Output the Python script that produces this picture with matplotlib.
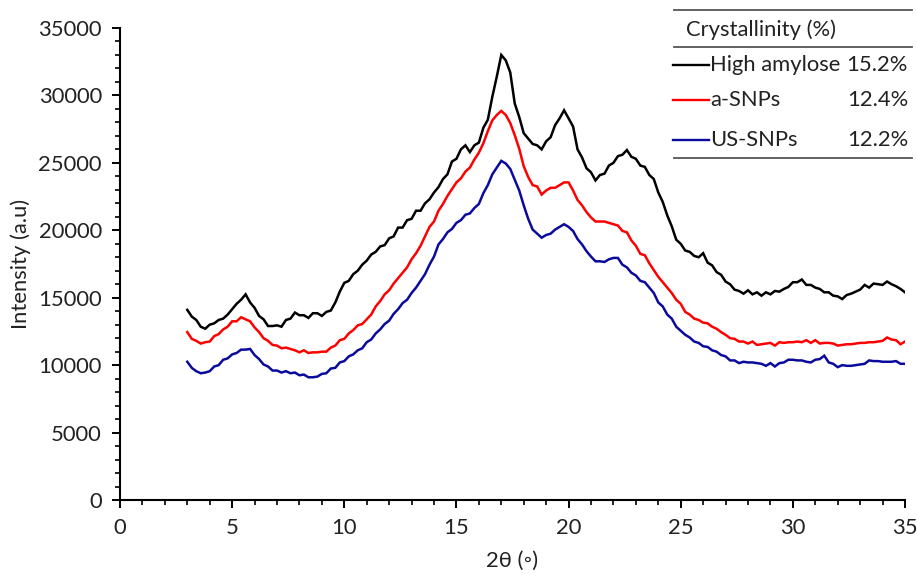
import numpy as np
import matplotlib
matplotlib.use("Agg")
import matplotlib.pyplot as plt
from matplotlib.lines import Line2D
from matplotlib.ticker import MultipleLocator

plt.rcParams['font.family'] = ['Lato', 'DejaVu Sans']

# 2-theta grid (degrees)
two_theta = np.round(np.arange(3.0, 35.0001, 0.2), 1)

high_amylose = [
    14100, 13600, 13350, 12850, 12700, 13000, 13100, 13350, 13450, 13750,
    14150, 14550, 14850, 15250, 14650, 14250, 13650, 13400, 12900, 12900,
    12950, 12850, 13350, 13450, 13900, 13700, 13700, 13500, 13850, 13850,
    13650, 13950, 14050, 14650, 15450, 16100, 16250, 16750, 17000, 17450,
    17750, 18200, 18400, 18800, 18900, 19400, 19550, 20200, 20200, 20750,
    20850, 21450, 21450, 22000, 22300, 22800, 23200, 23800, 24150, 25100,
    25300, 26000, 26300, 25800, 26300, 26500, 27600, 28200, 29900, 31400,
    33000, 32600, 31700, 29400, 28400, 27200, 26800, 26400, 26300, 26000,
    26600, 26900, 27800, 28300, 28900, 28300, 27700, 26000, 25400, 24600,
    24300, 23700, 24100, 24200, 24800, 25000, 25500, 25600, 25950, 25450,
    25300, 24800, 24700, 24100, 23800, 22800, 22100, 21100, 20300, 19300,
    19000, 18500, 18400, 18100, 18000, 18300, 17600, 17400, 16900, 16700,
    16200, 16000, 15600, 15500, 15300, 15550, 15250, 15400, 15150, 15400,
    15250, 15500, 15450, 15650, 15800, 16150, 16150, 16350, 15950, 15950,
    15750, 15650, 15400, 15400, 15150, 15100, 14900, 15200, 15300, 15450,
    15600, 15950, 15750, 16050, 16000, 15950, 16200, 16000, 15850, 15650,
    15400,
]

a_snps = [
    12450, 11950, 11800, 11600, 11700, 11750, 12150, 12300, 12650, 12850,
    13250, 13250, 13550, 13400, 13250, 12800, 12450, 12000, 11800, 11500,
    11450, 11250, 11300, 11200, 11100, 10950, 11100, 10900, 10950, 10950,
    11000, 11000, 11300, 11450, 11850, 11950, 12350, 12600, 12950, 13050,
    13400, 13750, 14350, 14750, 15250, 15550, 16050, 16450, 16850, 17250,
    17850, 18300, 18850, 19550, 20250, 20650, 21450, 21950, 22550, 23050,
    23550, 23850, 24350, 24650, 25250, 25750, 26450, 27350, 28150, 28550,
    28850, 28550, 27950, 27050, 26050, 24750, 23950, 23350, 23250, 22650,
    22950, 23150, 23150, 23350, 23550, 23550, 22950, 22250, 21850, 21350,
    20950, 20650, 20650, 20650, 20550, 20450, 20350, 19950, 19850, 19250,
    18850, 18250, 18150, 17550, 17050, 16550, 16150, 15750, 15350, 14850,
    14550, 13950, 13750, 13450, 13350, 13150, 13100, 12850, 12700, 12450,
    12250, 12000, 11950, 11750, 11750, 11600, 11750, 11500, 11550, 11600,
    11650, 11450, 11700, 11650, 11700, 11700, 11750, 11700, 11850, 11650,
    11850, 11600, 11650, 11650, 11600, 11450, 11500, 11550, 11550, 11600,
    11650, 11650, 11700, 11700, 11750, 11800, 12050, 11900, 11850, 11550,
    11750,
]

us_snps = [
    10250, 9800, 9550, 9400, 9450, 9550, 9900, 10000, 10400, 10500,
    10800, 10900, 11150, 11150, 11200, 10750, 10450, 10050, 9900, 9600,
    9600, 9450, 9550, 9400, 9450, 9250, 9300, 9100, 9100, 9150,
    9350, 9400, 9750, 9800, 10200, 10300, 10650, 10800, 11100, 11250,
    11700, 11900, 12350, 12650, 13050, 13300, 13800, 14150, 14600, 14850,
    15350, 15750, 16250, 16750, 17450, 18050, 18950, 19350, 19850, 20100,
    20550, 20750, 21150, 21250, 21650, 21950, 22750, 23350, 24150, 24650,
    25150, 24950, 24550, 23750, 22950, 21850, 20850, 20050, 19750, 19450,
    19650, 19750, 20050, 20250, 20450, 20250, 19950, 19350, 18950, 18450,
    18050, 17700, 17700, 17650, 17850, 17950, 17950, 17450, 17250, 16850,
    16650, 16250, 16150, 15750, 15350, 14650, 14350, 13750, 13450, 12850,
    12550, 12250, 12050, 11750, 11650, 11400, 11350, 11100, 11000, 10750,
    10650, 10350, 10350, 10150, 10250, 10200, 10200, 10150, 10100, 9950,
    10150, 9900, 10150, 10200, 10400, 10400, 10350, 10350, 10250, 10200,
    10400, 10450, 10700, 10200, 10100, 9850, 10000, 9950, 9950, 10000,
    10050, 10100, 10350, 10300, 10300, 10250, 10250, 10250, 10300, 10100,
    10100,
]

series_names = ["High amylose", "a-SNPs", "US-SNPs"]
crystallinity = ["15.2%", "12.4%", "12.2%"]
series_colors = ["#000000", "#ff0000", "#0a0a9c"]

x_ticks = [0, 5, 10, 15, 20, 25, 30, 35]
y_ticks = [0, 5000, 10000, 15000, 20000, 25000, 30000, 35000]

W, H = 917, 576
FS = 15.8
TXT = "#222222"
fig = plt.figure(figsize=(W / 100, H / 100), dpi=100)


def fx(px):
    return px / W


def fy(py):
    return 1 - py / H


ax = fig.add_axes([fx(120), fy(500), fx(905) - fx(120), fy(28) - fy(500)])

for vals, col in zip([high_amylose, a_snps, us_snps], series_colors):
    ax.plot(two_theta, vals, color=col, lw=1.8, solid_joinstyle="miter")

ax.set_xlim(0, 35)
ax.set_ylim(0, 35000)
ax.set_xticks(x_ticks)
ax.set_yticks(y_ticks)
ax.xaxis.set_minor_locator(MultipleLocator(1))
ax.yaxis.set_minor_locator(MultipleLocator(1000))

for side in ("top", "right"):
    ax.spines[side].set_visible(False)
for side in ("left", "bottom"):
    ax.spines[side].set_linewidth(1.5)
    ax.spines[side].set_color("black")

ax.tick_params(which="major", direction="out", length=6, width=1.4,
               labelsize=FS, labelcolor=TXT, pad=7)
ax.tick_params(which="minor", direction="out", length=3.5, width=1.2)

ax.set_xlabel("2θ (◦)", fontsize=FS, color=TXT, labelpad=9)
ax.set_ylabel("Intensity (a.u)", fontsize=FS, color=TXT, labelpad=5)

# crystallinity table in the upper right corner
rule_color = "#555555"
for py in (10, 47, 158):
    fig.add_artist(Line2D([fx(674), fx(912)], [fy(py), fy(py)],
                          color=rule_color, lw=1.3))

fig.text(fx(686), fy(30), "Crystallinity (%)", fontsize=FS,
         color=TXT, va="center", ha="left")

row_y = [65, 100, 140]
for name, val, col, py in zip(series_names, crystallinity, series_colors, row_y):
    fig.add_artist(Line2D([fx(673), fx(709)], [fy(py), fy(py)],
                          color=col, lw=1.7))
    fig.text(fx(710), fy(py), name, fontsize=FS, color=TXT,
             va="center", ha="left")
    fig.text(fx(908), fy(py), val, fontsize=FS, color=TXT,
             va="center", ha="right")

fig.savefig("out.png", dpi=100)
